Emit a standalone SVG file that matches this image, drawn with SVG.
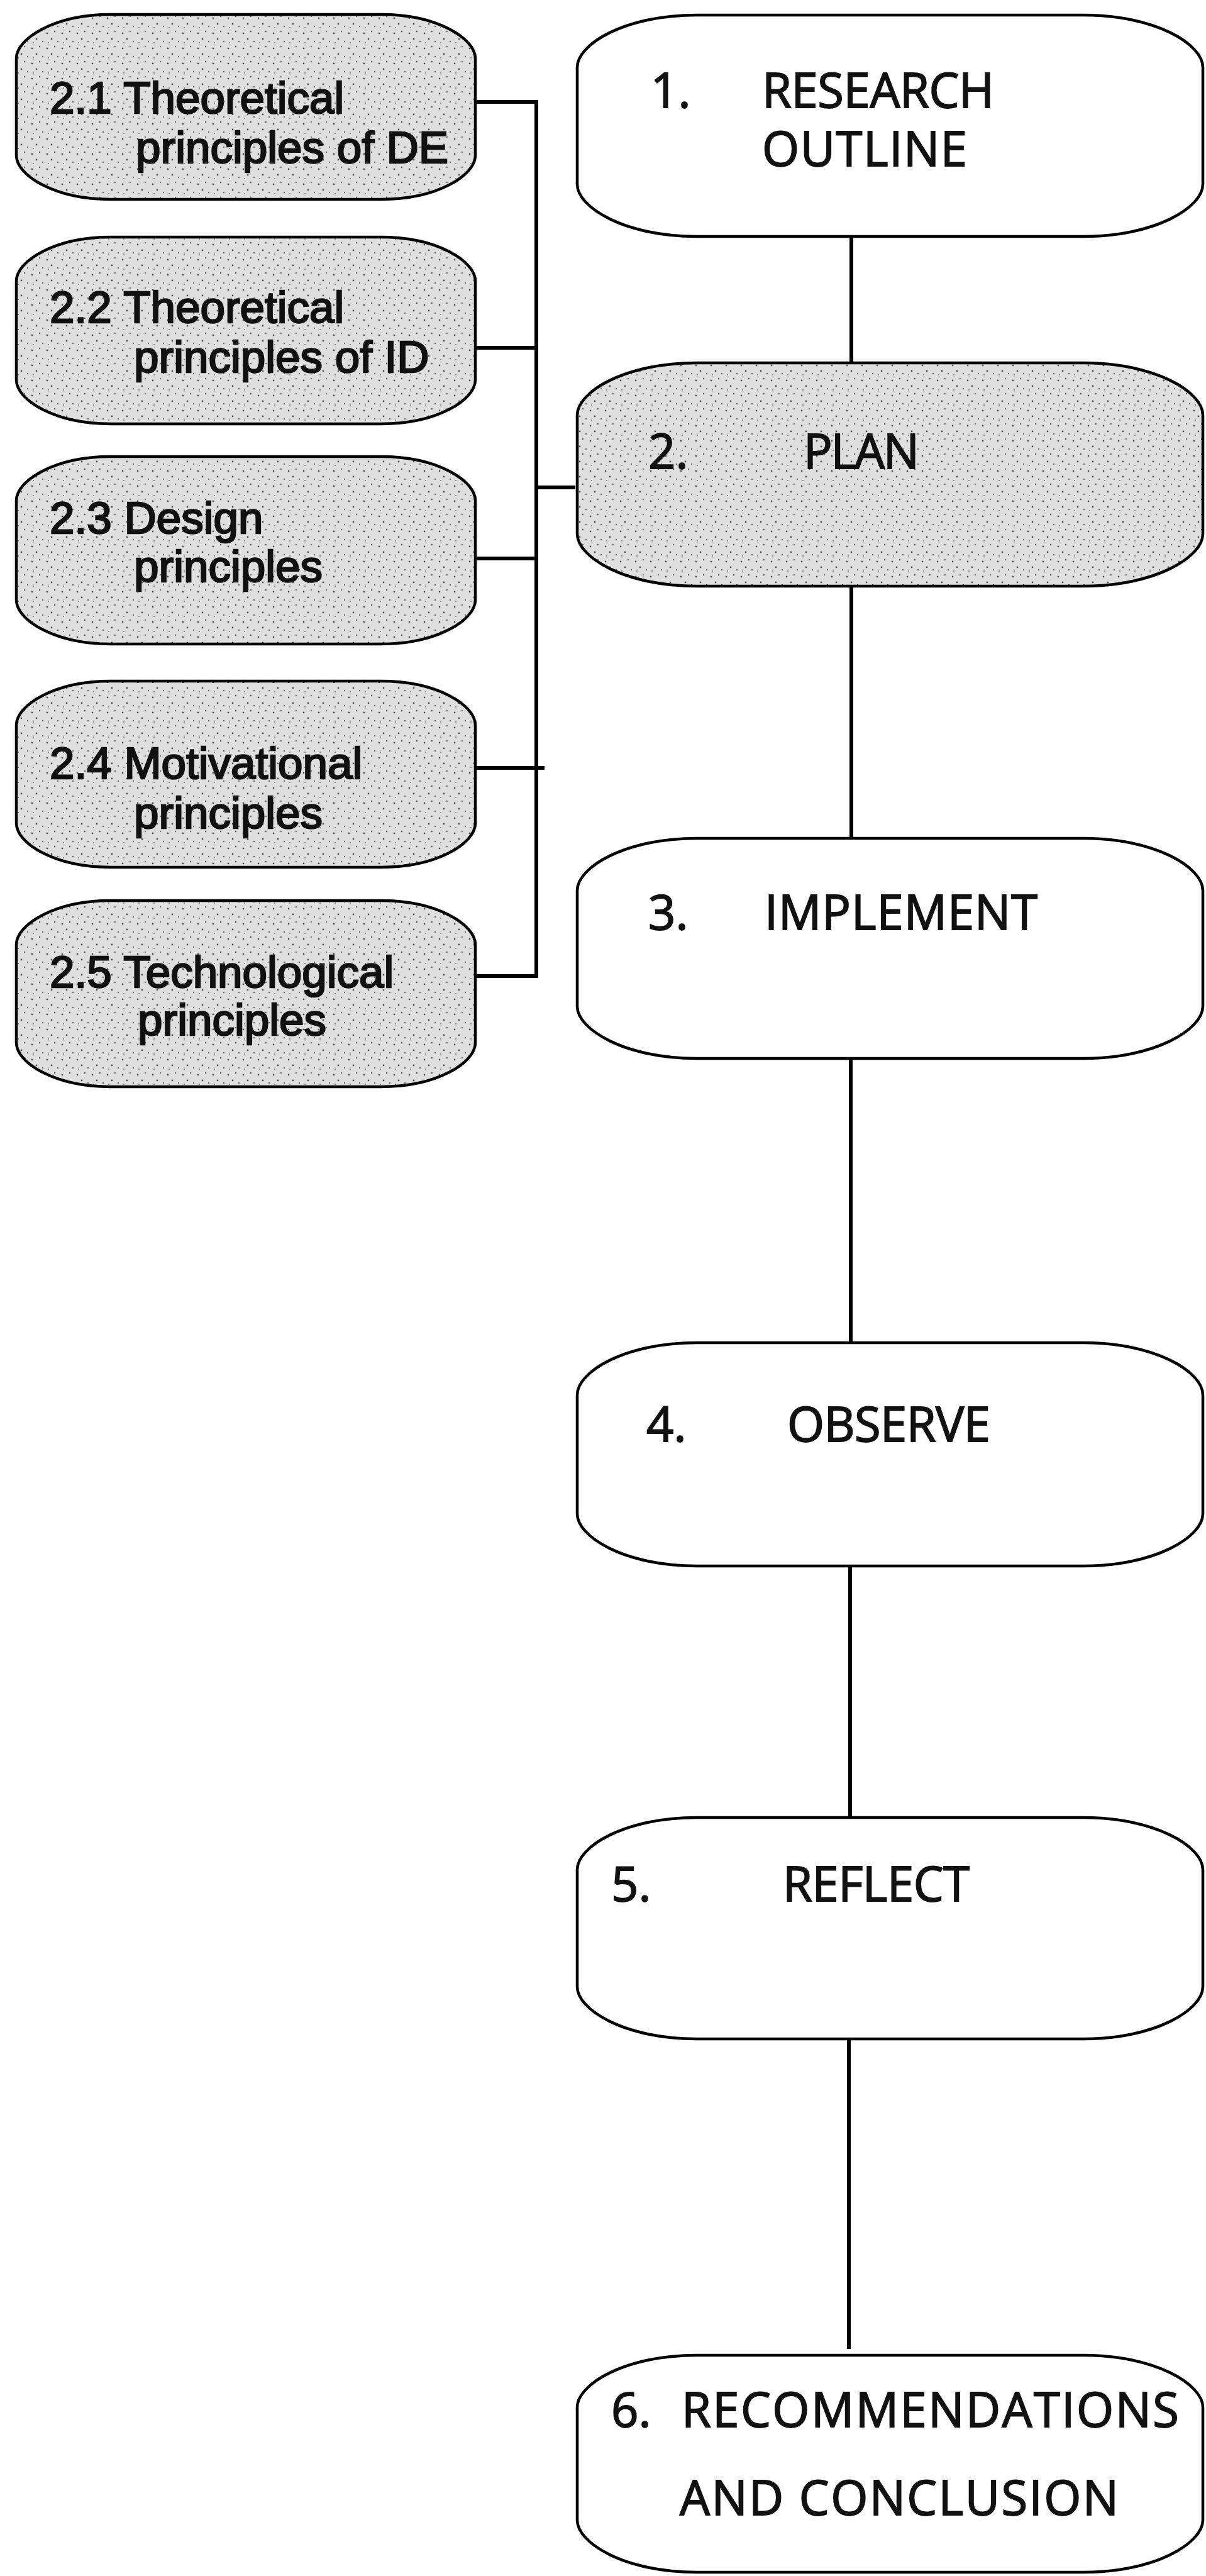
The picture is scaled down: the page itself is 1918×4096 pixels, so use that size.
<svg xmlns="http://www.w3.org/2000/svg" width="1918" height="4096" viewBox="0 0 1918 4096">
<defs>
<pattern id="stip" width="24" height="24" patternUnits="userSpaceOnUse">
<rect width="24" height="24" fill="#dfdfdf"/>
<circle cx="3" cy="5" r="1.4" fill="#555"/>
<circle cx="15" cy="2" r="1.2" fill="#666"/>
<circle cx="10" cy="14" r="1.4" fill="#555"/>
<circle cx="20" cy="18" r="1.2" fill="#666"/>
<circle cx="5" cy="20" r="1.1" fill="#777"/>
</pattern>
<style>
.box{stroke:#000;stroke-width:4.5;stroke-linejoin:round}
.white{fill:#fff}
.gray{fill:url(#stip)}
.conn{fill:none;stroke:#000;stroke-width:6;stroke-linecap:butt;stroke-linejoin:miter}
.lt{font-family:"Liberation Sans",Arial,sans-serif;font-size:71px;fill:#111;stroke:#111;stroke-width:2.5}
.rt{font-family:"Open Sans","Noto Sans",sans-serif;font-size:76px;fill:#111;stroke:#111;stroke-width:1.8}
</style>
</defs>
<rect width="1918" height="4096" fill="#fff"/>

<g id="connectors">
<path class="conn" d="M757,162 H853 V1552 H757"/>
<path class="conn" d="M757,553 H853"/>
<path class="conn" d="M757,888 H853"/>
<path class="conn" d="M757,1221 H866"/>
<path class="conn" d="M853,775 H915"/>
<path class="conn" d="M1354,376 V577"/>
<path class="conn" d="M1354,932 V1333"/>
<path class="conn" d="M1353,1683 V2135"/>
<path class="conn" d="M1352,2490 V2890"/>
<path class="conn" d="M1350,3242 V3735"/>
</g>

<g id="n21">
<path class="box gray" d="M26,93 C26,61.5 86,23 176,23 H606 C696,23 756,61.5 756,93 V247 C756,278.5 696,317 606,317 H176 C86,317 26,278.5 26,247 Z"/>
<text class="lt"><tspan x="79" y="180">2.1 Theoretical</tspan><tspan x="216" y="259">principles of DE</tspan></text>
</g>
<g id="n22">
<path class="box gray" d="M26,447 C26,415.5 86,377 176,377 H606 C696,377 756,415.5 756,447 V604 C756,635.5 696,674 606,674 H176 C86,674 26,635.5 26,604 Z"/>
<text class="lt"><tspan x="79" y="513">2.2 Theoretical</tspan><tspan x="213" y="592">principles of ID</tspan></text>
</g>
<g id="n23">
<path class="box gray" d="M26,796 C26,764.5 86,726 176,726 H606 C696,726 756,764.5 756,796 V954 C756,985.5 696,1024 606,1024 H176 C86,1024 26,985.5 26,954 Z"/>
<text class="lt"><tspan x="79" y="848">2.3 Design</tspan><tspan x="213" y="925">principles</tspan></text>
</g>
<g id="n24">
<path class="box gray" d="M26,1153 C26,1121.5 86,1083 176,1083 H606 C696,1083 756,1121.5 756,1153 V1309 C756,1340.5 696,1379 606,1379 H176 C86,1379 26,1340.5 26,1309 Z"/>
<text class="lt"><tspan x="79" y="1238">2.4 Motivational</tspan><tspan x="213" y="1317">principles</tspan></text>
</g>
<g id="n25">
<path class="box gray" d="M26,1502 C26,1470.5 86,1432 176,1432 H606 C696,1432 756,1470.5 756,1502 V1658 C756,1689.5 696,1728 606,1728 H176 C86,1728 26,1689.5 26,1658 Z"/>
<text class="lt"><tspan x="79" y="1570">2.5 Technological</tspan><tspan x="219" y="1646">principles</tspan></text>
</g>

<g id="n1">
<path class="box white" d="M918,107 C918,70 994,24 1108,24 H1723 C1837,24 1913,70 1913,107 V293 C1913,330 1837,376 1723,376 H1108 C994,376 918,330 918,293 Z"/>
<text class="rt" x="1035" y="171">1.</text>
<text class="rt" x="1212" y="171" textLength="369">RESEARCH</text>
<text class="rt" x="1212" y="264" textLength="326">OUTLINE</text>
</g>
<g id="n2">
<path class="box gray" d="M918,660 C918,623 994,577 1108,577 H1723 C1837,577 1913,623 1913,660 V849 C1913,886 1837,932 1723,932 H1108 C994,932 918,886 918,849 Z"/>
<text class="rt" x="1031" y="745">2.</text>
<text class="rt" x="1278" y="745" textLength="184">PLAN</text>
</g>
<g id="n3">
<path class="box white" d="M918,1416 C918,1379 994,1333 1108,1333 H1723 C1837,1333 1913,1379 1913,1416 V1600 C1913,1637 1837,1683 1723,1683 H1108 C994,1683 918,1637 918,1600 Z"/>
<text class="rt" x="1031" y="1478">3.</text>
<text class="rt" x="1216" y="1478" textLength="434">IMPLEMENT</text>
</g>
<g id="n4">
<path class="box white" d="M918,2218 C918,2181 994,2135 1108,2135 H1723 C1837,2135 1913,2181 1913,2218 V2407 C1913,2444 1837,2490 1723,2490 H1108 C994,2490 918,2444 918,2407 Z"/>
<text class="rt" x="1028" y="2292">4.</text>
<text class="rt" x="1252" y="2292" textLength="323">OBSERVE</text>
</g>
<g id="n5">
<path class="box white" d="M918,2973 C918,2936 994,2890 1108,2890 H1723 C1837,2890 1913,2936 1913,2973 V3159 C1913,3196 1837,3242 1723,3242 H1108 C994,3242 918,3196 918,3159 Z"/>
<text class="rt" x="972" y="3023">5.</text>
<text class="rt" x="1245" y="3023" textLength="297">REFLECT</text>
</g>
<g id="n6">
<path class="box white" d="M918,3828 C918,3791 994,3745 1108,3745 H1723 C1837,3745 1913,3791 1913,3828 V4007 C1913,4044 1837,4090 1723,4090 H1108 C994,4090 918,4044 918,4007 Z"/>
<text class="rt" x="972" y="3859">6.</text>
<text class="rt" x="1084" y="3859" textLength="791">RECOMMENDATIONS</text>
<text class="rt" x="1081" y="3999" textLength="698">AND CONCLUSION</text>
</g>
</svg>
